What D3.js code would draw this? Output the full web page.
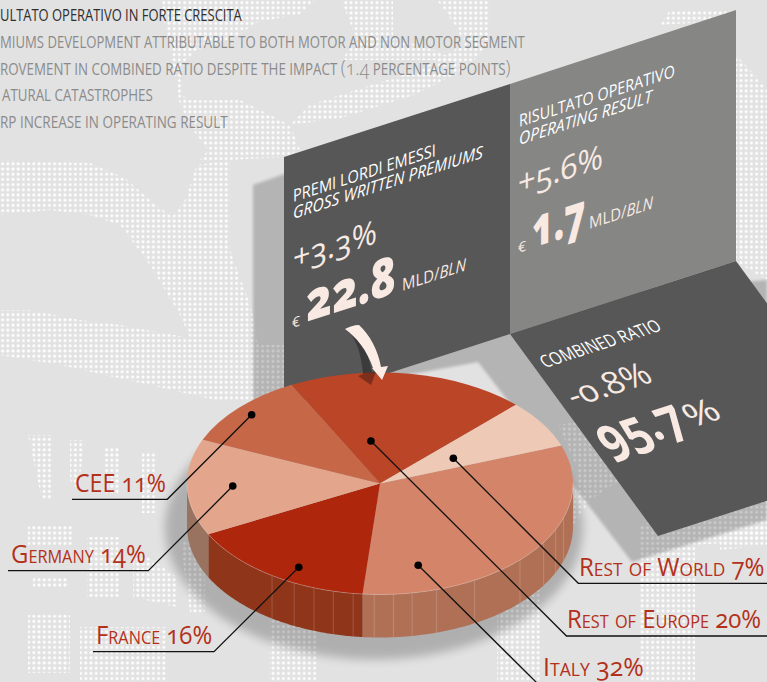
<!DOCTYPE html>
<html>
<head>
<meta charset="utf-8">
<script src="https://cdn.jsdelivr.net/npm/d3@7"></script>
<style>
    html, body { margin: 0; padding: 0; background: #e2e2e2; overflow: hidden; }
    svg { display: block; }
    text { font-family: 'Open Sans', 'Noto Sans', sans-serif; font-variant-numeric: oldstyle-nums; }
</style>
</head>
<body>
<div id="chart"></div>
<script>
// chart values
var regions = ['Italy', 'France', 'Germany', 'CEE', 'Rest of Europe', 'Rest of World'];
var shares = [32, 16, 14, 11, 20, 7];

// the source crops these lines at its left edge, so only the visible part is kept
var headlines = [
    'ULTATO OPERATIVO IN FORTE CRESCITA',
    'MIUMS DEVELOPMENT ATTRIBUTABLE TO BOTH MOTOR AND NON MOTOR SEGMENT',
    'ROVEMENT IN COMBINED RATIO DESPITE THE IMPACT (1.4 PERCENTAGE POINTS)',
    'ATURAL CATASTROPHES',
    'RP INCREASE IN OPERATING RESULT'
];

var premiTitle = ['PREMI LORDI EMESSI', 'GROSS WRITTEN PREMIUMS'];
var premiValues = ['+3.3%', '22.8'];
var resultTitle = ['RISULTATO OPERATIVO', 'OPERATING RESULT'];
var resultValues = ['+5.6%', '1.7'];
var ratioTitle = 'COMBINED RATIO';
var ratioValues = ['-0.8%', '95.7', '%'];
var unitLabel = ['MLD/', 'BLN'];

// slice styles, same order as regions
var topColors = ['#d48468', '#ae260c', '#e3a68c', '#c66748', '#ba4527', '#eec9b6'];
var sideColors = ['#b07056', '#8f3519', '#9a7360', '#8f3519', '#8f3519', '#b07056'];

// degrees around the rim where the thin ribs fall
var ribAngles = [108, 114.5, 122, 133.5, 150.7, 163, 170.4, 176, 181.7, 188, 194, 200, 206.4, 214];

var width = 767, height = 682;
var cx = 380, cy = 483.5, rx = 193, ry = 111, depth = 43;
var startDeg = 70;

var unitX = d3.scaleLinear().domain([-1, 1]).range([cx - rx, cx + rx]);
var unitY = d3.scaleLinear().domain([-1, 1]).range([cy - ry, cy + ry]);

var svg = d3.select('#chart').append('svg').attr('width', width).attr('height', height);
var defs = svg.append('defs');

var pattern = defs.append('pattern')
    .attr('id', 'dots')
    .attr('patternUnits', 'userSpaceOnUse')
    .attr('width', 5.2)
    .attr('height', 5.2);
pattern.append('circle').attr('cx', 2.6).attr('cy', 2.6).attr('r', 1.5).attr('fill', '#fff');

defs.append('filter').attr('id', 'soft').attr('x', '-10%').attr('y', '-10%').attr('width', '120%').attr('height', '120%')
    .append('feGaussianBlur').attr('stdDeviation', 1.6);
defs.append('filter').attr('id', 'softer').attr('x', '-10%').attr('y', '-10%').attr('width', '120%').attr('height', '120%')
    .append('feGaussianBlur').attr('stdDeviation', 5);

svg.append('rect').attr('width', width).attr('height', height).attr('fill', '#e2e2e2');

// Halftone letters in the background
var dotShapes = [
    [[160,0],[316,0],[300,14],[258,22],[233,38],[196,50],[183,66],[181,95],[191,100],[240,100],[290,125],[300,150],[284,157],[230,160],[200,160],[208,150],[195,133],[180,105],[172,60]],
    [[341,0],[393,0],[393,38],[434,50],[455,60],[341,60],[357,40]],
    [[437,0],[490,0],[490,42],[468,68],[414,95],[341,118],[290,125],[310,105],[362,88],[419,70],[465,44],[455,25]],
    [[0,160],[90,163],[125,178],[150,200],[172,217],[185,200],[197,165],[230,160],[230,250],[252,310],[258,345],[285,345],[285,400],[270,400],[215,400],[150,385],[60,365],[0,355],[0,310],[30,310],[80,320],[120,325],[190,338],[180,315],[150,265],[120,225],[90,215],[50,210],[0,215]],
    [[660,25],[670,10],[736,10],[736,20]],
    [[736,55],[755,75],[767,90],[767,280],[736,262]],
    [[558,425],[590,420],[610,460],[620,480],[590,500],[570,530],[578,470]],
    [[640,525],[767,490],[767,540],[695,545],[695,682],[640,682]],
    [[720,535],[767,525],[767,545],[720,550]],
    [[497,590],[540,590],[540,682],[497,682]],
    [[269,620],[318,620],[318,682],[269,682]],
    [[28,435],[53,435],[53,500],[42,500]],
    [[70,440],[85,440],[78,490],[70,480]],
    [[103,447],[120,447],[120,495],[103,495]],
    [[142,453],[157,453],[157,513],[142,513]],
    [[28,525],[73,525],[73,545],[28,545]],
    [[33,577],[67,577],[67,587],[33,587]],
    [[87,537],[120,537],[120,597],[87,597]],
    [[133,547],[177,577],[177,607],[133,597]],
    [[180,540],[205,540],[205,612],[190,612]],
    [[28,615],[70,615],[70,673],[28,673]],
    [[80,627],[167,627],[167,682],[80,682]]
];
svg.append('g').selectAll('path')
    .data(dotShapes)
    .enter().append('path')
    .attr('d', d => d3.line()(d) + 'Z')
    .attr('fill', 'url(#dots)');

// Shadows
svg.append('path')
    .attr('d', d3.line()([[253,185],[290,172],[290,320],[510,300],[767,280],[767,520],[632,562],[478,362],[407,375],[300,425],[253,425]]) + 'Z')
    .attr('fill', '#000')
    .attr('opacity', 0.2)
    .attr('filter', 'url(#soft)');
svg.append('ellipse')
    .attr('cx', cx - 6).attr('cy', cy + 44).attr('rx', rx + 16).attr('ry', ry + 21)
    .attr('fill', '#000')
    .attr('opacity', 0.22)
    .attr('filter', 'url(#softer)');

// Panels
var panels = [
    {points: [[284,157],[510,84],[510,334],[284,407]], fill: '#575757'},
    {points: [[510,84],[736,10],[736,261],[510,334]], fill: '#868685'},
    {points: [[510,334],[736,261],[884,463],[658,536]], fill: '#575757'}
];
svg.append('g').selectAll('path')
    .data(panels)
    .enter().append('path')
    .attr('d', d => d3.line()(d.points) + 'Z')
    .attr('fill', d => d.fill);

// Pie
var pie = d3.pie().sort(null)
    .startAngle(startDeg * Math.PI / 180)
    .endAngle((startDeg + 360) * Math.PI / 180);
var slices = pie(shares);
var arc = d3.arc().innerRadius(0).outerRadius(rx);

var rimX = a => cx + rx * Math.sin(a);
var rimY = a => cy - ry * Math.cos(a);
var side = d3.area().x(rimX).y0(rimY).y1(a => rimY(a) + depth);

var frontFrom = Math.PI / 2, frontTo = 3 * Math.PI / 2;
function rimAngles(d) {
    var a0 = Math.max(d.startAngle, frontFrom), a1 = Math.min(d.endAngle, frontTo);
    if (a1 <= a0) return [];
    return d3.range(a0, a1, 0.01).concat([a1]);
}

var pieGroup = svg.append('g');
pieGroup.selectAll('.side')
    .data(slices)
    .enter().append('path')
    .attr('class', 'side')
    .attr('d', d => side(rimAngles(d)))
    .attr('fill', (d, i) => sideColors[i]);

pieGroup.selectAll('.rib')
    .data(ribAngles)
    .enter().append('line')
    .attr('class', 'rib')
    .attr('x1', d => rimX(d * Math.PI / 180))
    .attr('x2', d => rimX(d * Math.PI / 180))
    .attr('y1', d => rimY(d * Math.PI / 180))
    .attr('y2', d => rimY(d * Math.PI / 180) + depth)
    .attr('stroke', '#fff')
    .attr('stroke-opacity', 0.22)
    .attr('stroke-width', 0.8);

pieGroup.selectAll('.slice')
    .data(slices)
    .enter().append('path')
    .attr('class', 'slice')
    .attr('d', arc)
    .attr('transform', 'translate(' + cx + ',' + cy + ') scale(1,' + (ry / rx) + ')')
    .attr('fill', (d, i) => topColors[i]);

pieGroup.append('path')
    .attr('d', d3.line().x(rimX).y(rimY)(d3.range(frontFrom, frontTo, 0.01)))
    .attr('fill', 'none')
    .attr('stroke', '#fff')
    .attr('stroke-opacity', 0.3)
    .attr('stroke-width', 0.8);

// Arrow from the premiums figure down to the pie
svg.append('path')
    .attr('d', 'M346,329 C356,338 361,352 363,374 L358,376 L371,385 L376,372 L372,372 C368,352 360,336 346,329Z')
    .attr('fill', '#000')
    .attr('opacity', 0.32);
svg.append('path')
    .attr('d', 'M345,329 C356,337 367,350 373,368 L372,368 L382,380 L388,366 L381,367 C378,350 370,335 359,325 C354,325 349,327 345,329Z')
    .attr('fill', '#fbede6');

// squeeze a text to a given width, the fonts here run wider than the original
function placeText(t, x, y, len, m) {
    m = m || [1, 0, 0, 1];
    var k = len ? len / t.node().getComputedTextLength() : 1;
    t.attr('transform', 'matrix(' + [m[0] * k, m[1] * k, m[2], m[3], x, y].join(',') + ')');
}

// Leaders: dot in unit disc coordinates, then elbow and far end of the underline
var leaders = [
    {dot: [0.198, 0.736], elbow: [537, 683], end: [767, 683], label: [543, 676], len: 100},
    {dot: [-0.421, 0.755], elbow: [214, 651.7], end: [93, 651.7], label: [96, 644], len: 117},
    {dot: [-0.763, 0.023], elbow: [148.3, 570.7], end: [8, 570.7], label: [11, 563], len: 136},
    {dot: [-0.665, -0.62], elbow: [167.3, 499.3], end: [72, 499.3], label: [75, 492], len: 91},
    {dot: [-0.047, -0.383], elbow: [566.5, 636], end: [767, 636], label: [567, 627.5], len: 196},
    {dot: [0.38, -0.227], elbow: [578.3, 583.3], end: [767, 583.3], label: [579, 575.5], len: 182}
];

var leader = svg.append('g').selectAll('g')
    .data(leaders)
    .enter().append('g');

leader.append('path')
    .attr('d', d => d3.line()([[unitX(d.dot[0]), unitY(d.dot[1])], d.elbow, d.end]))
    .attr('fill', 'none')
    .attr('stroke', '#111')
    .attr('stroke-width', 1.3);

leader.append('circle')
    .attr('cx', d => unitX(d.dot[0]))
    .attr('cy', d => unitY(d.dot[1]))
    .attr('r', 3.8)
    .attr('fill', '#000');

leader.append('text')
    .attr('font-size', 26)
    .attr('fill', '#b3301a')
    .style('font-variant-caps', 'small-caps')
    .text((d, i) => regions[i] + ' ' + shares[i] + '%')
    .each(function(d) { placeText(d3.select(this), d.label[0], d.label[1], d.len); });

// Headlines at top left
var headlineLayout = [
    {x: 0, y: 21, len: 242, fill: '#2e2e2e'},
    {x: 0, y: 48, len: 525, fill: '#8b8b8b'},
    {x: 0, y: 75, len: 511, fill: '#8b8b8b'},
    {x: 2, y: 101, len: 151, fill: '#8b8b8b'},
    {x: 0, y: 128, len: 228, fill: '#8b8b8b'}
];
svg.append('g').selectAll('text')
    .data(headlines)
    .enter().append('text')
    .attr('font-size', 15.5)
    .attr('fill', (d, i) => headlineLayout[i].fill)
    .html(d => d.replace(/\(1\.4|\)/g, m => '<tspan font-size="21" font-weight="300">' + m + '</tspan>'))
    .each(function(d, i) {
        var l = headlineLayout[i];
        placeText(d3.select(this), l.x, l.y, l.len);
    });

// Panel text, sheared to lie on the panel planes
var wall = [1, -0.323, 0, 1];
var floor = [1, -0.323, 0.62, 0.9];
var cream = '#f8eae3';

function sheared(x, y, m, str, size, len, opts) {
    opts = opts || {};
    var t = svg.append('text')
        .attr('font-size', size)
        .attr('fill', opts.fill || cream)
        .attr('font-weight', opts.weight || 400)
        .attr('font-style', opts.italic ? 'italic' : 'normal')
        .html(str);
    placeText(t, x, y, len, m);
    return t;
}

var unitText = unitLabel[0] + '<tspan font-style="italic">' + unitLabel[1] + '</tspan>';

sheared(293, 202, wall, premiTitle[0], 17, 143, {fill: '#fff'});
sheared(293, 219, wall, premiTitle[1], 17, 190, {fill: '#fff', italic: true});
sheared(293, 270, wall, premiValues[0], 33, 84);
sheared(292, 328, wall, '€', 14, 0);
sheared(306, 322, wall, premiValues[1], 54, 90, {weight: 800});
sheared(402, 291, wall, unitText, 17, 64);

sheared(519, 127, wall, resultTitle[0], 17, 156, {fill: '#fff'});
sheared(519, 145, wall, resultTitle[1], 17, 133, {fill: '#fff', italic: true});
sheared(518, 195, wall, resultValues[0], 33, 85);
sheared(518, 253, wall, '€', 14, 0);
sheared(532, 248, wall, resultValues[1], 54, 54, {weight: 800});
sheared(589, 229, wall, unitText, 17, 64);

sheared(545, 368, floor, ratioTitle, 17, 118, {fill: '#fff'});
sheared(575, 407, floor, ratioValues[0], 31, 80);
sheared(609, 456, floor, ratioValues[1], 52, 82, {weight: 700});
sheared(692, 428, floor, ratioValues[2], 32, 32);
</script>
</body>
</html>
